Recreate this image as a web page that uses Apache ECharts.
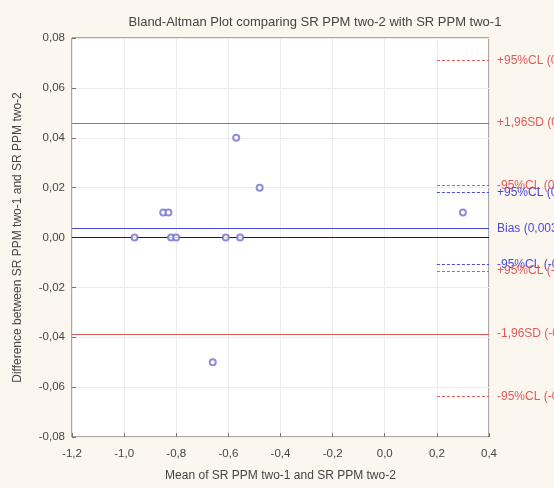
<!DOCTYPE html>
<html>
<head>
<meta charset="utf-8">
<script src="https://cdn.jsdelivr.net/npm/echarts@6/dist/echarts.min.js"></script>
<style>
  html, body { margin: 0; padding: 0; background: #fcf7ee; }
  #chart { width: 554px; height: 488px; }
</style>
</head>
<body>
<div id="chart"></div>
<script>
// Paired measurements: mean of the two methods vs. their difference
const meanVals = [-0.96, -0.85, -0.83, -0.82, -0.80, -0.61, -0.555, -0.57, -0.48, -0.66, 0.30];
const diffVals = [0.00, 0.01, 0.01, 0.00, 0.00, 0.00, 0.00, 0.04, 0.02, -0.05, 0.01];

// Agreement statistics (bias, limits of agreement and their confidence limits)
const lineNames  = ['+95%CL (0,0710)', '+1,96SD (0,0459)', '-95%CL (0,0208)', '+95%CL (0,0181)', 'Bias (0,0036)', '-95%CL (-0,0109)', '+95%CL (-0,0135)', '-1,96SD (-0,0386)', '-95%CL (-0,0637)'];
const lineValues = [0.0710, 0.0459, 0.0208, 0.0181, 0.0036, -0.0109, -0.0135, -0.0386, -0.0637];
const lineKinds  = ['ciLoa', 'loa', 'ciLoa', 'ciBias', 'bias', 'ciBias', 'ciLoa', 'loa', 'ciLoa'];

// Axis ranges: [min, max, interval]
const xTicks = [-1.2, 0.4, 0.2];
const yTicks = [-0.08, 0.08, 0.02];

const RED = '#e05a5a';
const BLUE = '#4a4ad8';
const FONT = 'Liberation Sans';

const styles = {
  loa:    { color: RED,  type: 'solid', from: -1.2 },
  bias:   { color: BLUE, type: 'solid', from: -1.2 },
  ciLoa:  { color: RED,  type: [3, 2],  from: 0.2 },
  ciBias: { color: BLUE, type: [3, 2],  from: 0.2 }
};

const markData = lineValues.map((v, i) => {
  const s = styles[lineKinds[i]];
  return [
    { coord: [s.from, v], lineStyle: { color: s.color, type: s.type, width: 1 },
      label: { show: true, formatter: lineNames[i], color: s.color } },
    { coord: [xTicks[1], v] }
  ];
});
// zero reference
markData.push([
  { coord: [xTicks[0], 0], lineStyle: { color: '#222', type: 'solid', width: 1 }, label: { show: false } },
  { coord: [xTicks[1], 0] }
]);

const chart = echarts.init(document.getElementById('chart'));
chart.setOption({
  animation: false,
  backgroundColor: '#fcf7ee',
  title: {
    text: 'Bland-Altman Plot comparing SR PPM two-2 with SR PPM two-1',
    left: 310, top: 11, textAlign: 'center',
    textStyle: { fontFamily: FONT, fontSize: 13, fontWeight: 'normal', color: '#444' }
  },
  grid: {
    left: 72, right: 65, top: 38, bottom: 51,
    outerBoundsMode: 'none',
    containLabel: false,
    show: true, backgroundColor: '#ffffff', borderColor: '#555', borderWidth: 1
  },
  xAxis: {
    type: 'value', min: xTicks[0], max: xTicks[1], interval: xTicks[2],
    name: 'Mean of SR PPM two-1 and SR PPM two-2',
    nameLocation: 'middle', nameGap: 33,
    nameTextStyle: { fontFamily: FONT, fontSize: 12, color: '#444' },
    axisLine: { show: false, onZero: false },
    axisTick: { show: true, inside: true, length: 4, lineStyle: { color: '#777' } },
    axisLabel: { fontFamily: FONT, fontSize: 11.5, color: '#444', margin: 11,
      formatter: v => v.toFixed(1).replace('.', ',') },
    splitLine: { show: true, lineStyle: { color: '#ececec', width: 1 } }
  },
  yAxis: {
    type: 'value', min: yTicks[0], max: yTicks[1], interval: yTicks[2],
    name: 'Difference between SR PPM two-1 and SR PPM two-2',
    nameLocation: 'middle', nameGap: 48, nameRotate: 90,
    nameTextStyle: { fontFamily: FONT, fontSize: 12, color: '#444' },
    axisLine: { show: false, onZero: false },
    axisTick: { show: true, inside: true, length: 4, lineStyle: { color: '#777' } },
    axisLabel: { fontFamily: FONT, fontSize: 11.5, color: '#444', margin: 7,
      formatter: v => v.toFixed(2).replace('.', ',') },
    splitLine: { show: true, lineStyle: { color: '#ececec', width: 1 } }
  },
  series: [{
    type: 'scatter',
    data: meanVals.map((m, i) => [m, diffVals[i]]),
    symbol: 'emptyCircle',
    symbolSize: 6,
    itemStyle: { color: '#7070d0', borderWidth: 1.2 },
    z: 5,
    markLine: {
      silent: true,
      symbol: ['none', 'none'],
      animation: false,
      label: { position: 'end', distance: 8, fontFamily: FONT, fontSize: 12 },
      data: markData
    }
  }]
});
</script>
</body>
</html>
